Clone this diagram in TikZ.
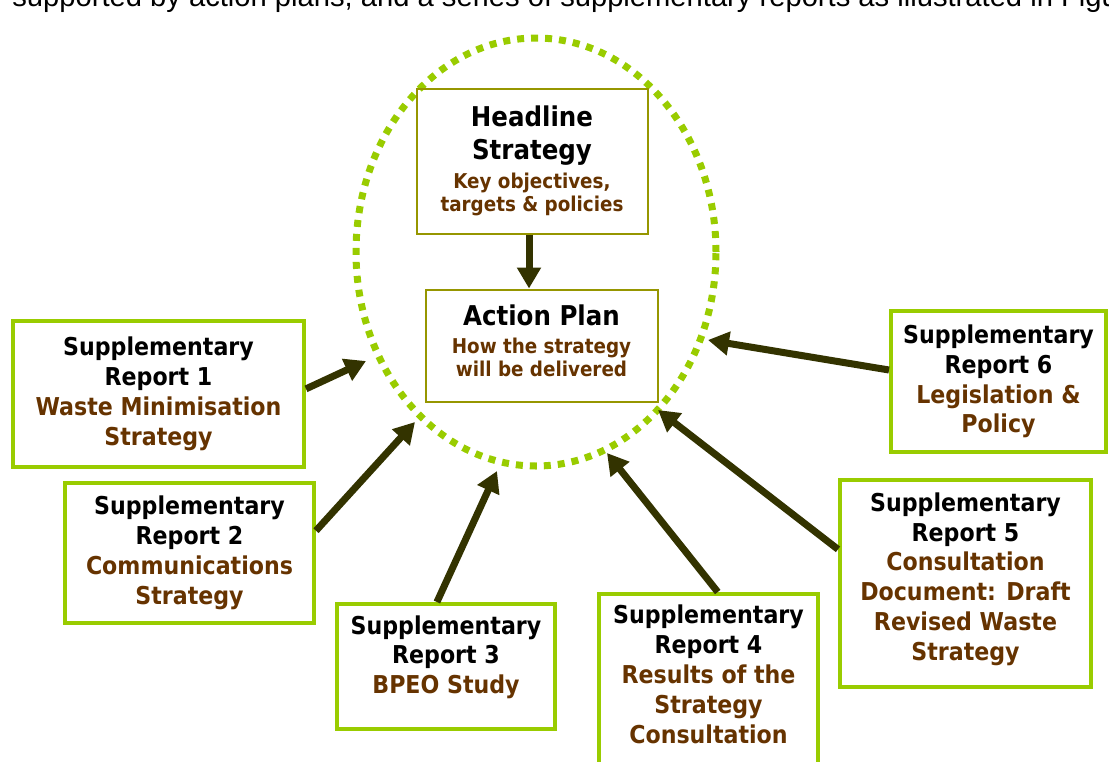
\documentclass[tikz,border=0pt]{standalone}
\usepackage{fontspec}
\setmainfont{Liberation Sans}
\newfontfamily\boxfont{DejaVu Sans Condensed}
\usetikzlibrary{arrows.meta}

\definecolor{leaf}{RGB}{153,204,0}
\definecolor{olivebox}{RGB}{150,150,0}
\definecolor{arrowdark}{RGB}{51,51,0}
\definecolor{brn}{RGB}{102,51,0}

\newlength{\pxu}
\setlength{\pxu}{0.02cm}
\newcommand\repfont{\boxfont\bfseries\fontsize{14}{17}\selectfont}
\newcommand\titlefont{\boxfont\bfseries\fontsize{15.5}{18.8}\selectfont}
\newcommand\subtext[1]{{\fontsize{11.6}{13.1}\selectfont\color{brn}#1}}
\newcommand\topic[1]{{\color{brn}#1}}

\tikzset{
  report/.style={draw=leaf, line width=4\pxu, align=center, inner sep=0pt, font=\repfont},
  core/.style={draw=olivebox, line width=2\pxu, align=center, inner sep=0pt, font=\titlefont},
  feed/.style={draw=arrowdark, line width=0.14cm, -{Triangle[length=0.42cm, width=0.46cm]}},
}

\begin{document}
\begin{tikzpicture}[x=0.02cm, y=-0.02cm]
    \useasboundingbox (0,0) rectangle (1109,761);
    \clip (0,0) rectangle (1109,761);

    % Text line cut off above the figure
    \node[anchor=base west, inner sep=0pt, font=\fontsize{16.6}{19}\selectfont] (intro) at (12,6)
        {supported by action plans, and a series of supplementary reports as illustrated in Figure};

    % Dotted ring round the strategy
    \draw[leaf, line width=7\pxu, dash pattern=on 7\pxu off 7\pxu] (536,252) ellipse [x radius=180\pxu, y radius=214\pxu];

    % Strategy boxes
    \node[core, minimum width=231\pxu, minimum height=145\pxu] (hs) at (532,161)
        {Headline\\Strategy\\[-2.3pt]\subtext{Key objectives,}\\[-5.7pt]\subtext{targets \& policies}};
    \node[core, minimum width=232\pxu, minimum height=112\pxu, text depth=5.7pt] (ap) at (541.5,345.5)
        {Action Plan\\[-2.9pt]\subtext{How the strategy}\\[-5.7pt]\subtext{will be delivered}};

    % Supplementary reports
    \node[report, minimum width=291\pxu, minimum height=146\pxu] (r1) at (158.5,394)
        {Supplementary\\Report 1\\\topic{Waste Minimisation}\\\topic{Strategy}};
    \node[report, minimum width=249\pxu, minimum height=140\pxu] (r2) at (189.5,553)
        {Supplementary\\Report 2\\\topic{Communications}\\\topic{Strategy}};
    \node[report, minimum width=218\pxu, minimum height=125\pxu, text depth=13.6pt] (r3) at (446,666.5)
        {Supplementary\\Report 3\\\topic{BPEO Study}};
    \node[report, minimum width=219\pxu, minimum height=172\pxu, text depth=6.8pt] (r4) at (708.5,680)
        {Supplementary\\Report 4\\\topic{Results of the}\\\topic{Strategy}\\\topic{Consultation}};
    \node[report, minimum width=251\pxu, minimum height=207\pxu, text depth=8pt] (r5) at (965.5,583.5)
        {Supplementary\\Report 5\\\topic{Consultation}\\\topic{Document: Draft}\\\topic{Revised Waste}\\\topic{Strategy}};
    \node[report, minimum width=215\pxu, minimum height=141\pxu] (r6) at (998.5,381.5)
        {Supplementary\\Report 6\\\topic{Legislation \&}\\\topic{Policy}};

    % Arrow tips on the ring
    \coordinate (h1) at (366,361);
    \coordinate (h2) at (415,422);
    \coordinate (h3) at (497,471);
    \coordinate (h4) at (607,453);
    \coordinate (h5) at (658,410);
    \coordinate (h6) at (708,340);

    % Arrows
    \draw[feed] ([xshift=-0.06cm]hs.south) -- ([xshift=-0.06cm]hs.south |- ap.north);
    \draw[feed] (r1.2) -- (h1);
    \draw[feed] (r2.10) -- (h2);
    \draw[feed] (r3.98) -- (h3);
    \draw[feed] (r4.84) -- (h4);
    \draw[feed] (r5.165) -- (h5);
    \draw[feed] (r6.174) -- (h6);
\end{tikzpicture}
\end{document}
